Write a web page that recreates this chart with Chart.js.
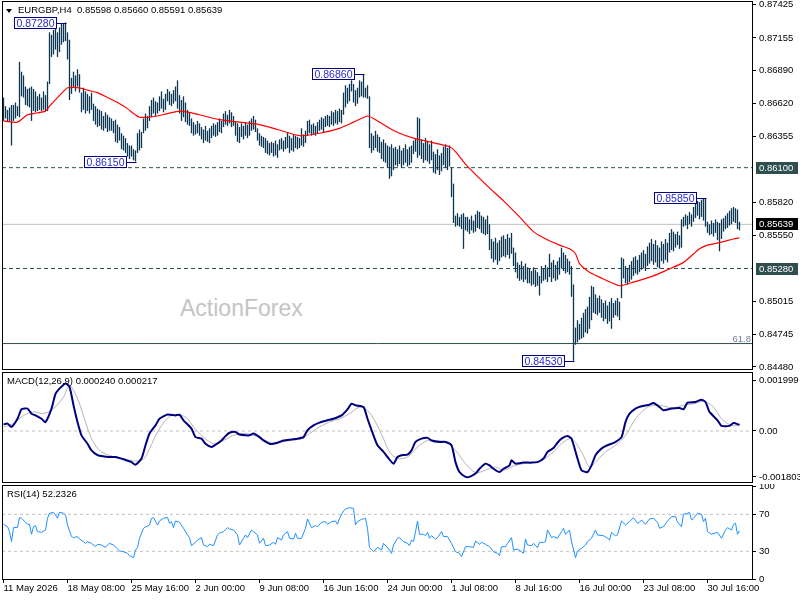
<!DOCTYPE html>
<html>
<head>
<meta charset="utf-8">
<title>EURGBP H4</title>
<script src="https://cdn.jsdelivr.net/npm/chart.js@4.4.1/dist/chart.umd.min.js"></script>
<style>
  html, body { margin: 0; padding: 0; background: #fff; }
  #wrap { position: relative; width: 800px; height: 600px; overflow: hidden; font-family: 'Liberation Sans', Arial, sans-serif; }
  #wrap canvas { position: absolute; left: 0; }
  #chart-price { top: 0; }
  #chart-macd { top: 372px; }
  #chart-rsi { top: 484px; }
  .caption { position: absolute; font-size: 9.5px; line-height: 9.5px; white-space: pre; color: #000; }
  .arrow { position: absolute; left: 6px; top: 9px; width: 0; height: 0; border-left: 3.5px solid transparent; border-right: 3.5px solid transparent; border-top: 4px solid #000; }
  .watermark { position: absolute; left: 180px; top: 297px; font-size: 23px; line-height: 23px; color: #c4c4c4; white-space: pre; }
</style>
</head>
<body>
<div id="wrap">
  <div class="watermark">ActionForex</div>
  <canvas id="chart-price" width="800" height="372"></canvas>
  <canvas id="chart-macd" width="800" height="112"></canvas>
  <canvas id="chart-rsi" width="800" height="116"></canvas>
  <div class="arrow"></div>
  <div class="caption" style="left:18px; top:5px;">EURGBP,H4  0.85598 0.85660 0.85591 0.85639</div>
  <div class="caption" style="left:7px; top:376px;">MACD(12,26,9) 0.000240 0.000217</div>
  <div class="caption" style="left:7px; top:489px;">RSI(14) 52.2326</div>
</div>
<script>
// H4 bars, one entry per bar (bar 0 = 11 May 2026 00:00)
const barHigh = [
  0.8667, 0.8660, 0.8657, 0.8659, 0.8661, 0.8661, 0.8663, 0.8660, 0.8696, 0.8688,
  0.8685, 0.8676, 0.8674, 0.8675, 0.8676, 0.8674, 0.8672, 0.8668, 0.8670, 0.8667,
  0.8672, 0.8669, 0.8680, 0.8720, 0.8718, 0.8722, 0.8726, 0.8720, 0.8724, 0.8727,
  0.8727, 0.8728, 0.8720, 0.8714, 0.8683, 0.8688, 0.8685, 0.8690, 0.8686, 0.8671,
  0.8675, 0.8672, 0.8670, 0.8668, 0.8671, 0.8662, 0.8660, 0.8658, 0.8657, 0.8656,
  0.8652, 0.8655, 0.8653, 0.8651, 0.8650, 0.8648, 0.8649, 0.8645, 0.8643, 0.8638,
  0.8636, 0.8634, 0.8630, 0.8628, 0.8628, 0.8625, 0.8624, 0.8638, 0.8641, 0.8639,
  0.8650, 0.8654, 0.8652, 0.8660, 0.8665, 0.8667, 0.8664, 0.8663, 0.8668, 0.8672,
  0.8666, 0.8670, 0.8674, 0.8672, 0.8670, 0.8673, 0.8676, 0.8681, 0.8669, 0.8665,
  0.8668, 0.8663, 0.8657, 0.8655, 0.8650, 0.8647, 0.8645, 0.8648, 0.8646, 0.8643,
  0.8641, 0.8644, 0.8640, 0.8642, 0.8644, 0.8646, 0.8645, 0.8647, 0.8650, 0.8648,
  0.8654, 0.8656, 0.8653, 0.8657, 0.8655, 0.8652, 0.8648, 0.8646, 0.8643, 0.8646,
  0.8644, 0.8647, 0.8645, 0.8648, 0.8650, 0.8652, 0.8649, 0.8642, 0.8638, 0.8636,
  0.8635, 0.8634, 0.8632, 0.8630, 0.8631, 0.8630, 0.8632, 0.8629, 0.8633, 0.8634,
  0.8632, 0.8635, 0.8639, 0.8636, 0.8634, 0.8637, 0.8636, 0.8635, 0.8634, 0.8642,
  0.8637, 0.8640, 0.8648, 0.8649, 0.8645, 0.8646, 0.8644, 0.8647, 0.8649, 0.8651,
  0.8650, 0.8652, 0.8653, 0.8652, 0.8656, 0.8655, 0.8657, 0.8656, 0.8658, 0.8657,
  0.8671, 0.8677, 0.8675, 0.8678, 0.8681, 0.8678, 0.8673, 0.8675, 0.8681, 0.8680,
  0.8686, 0.8675, 0.8677, 0.8668, 0.8638, 0.8636, 0.8640, 0.8637, 0.8635, 0.8631,
  0.8633, 0.8630, 0.8628, 0.8627, 0.8629, 0.8626, 0.8627, 0.8625, 0.8628, 0.8624,
  0.8626, 0.8629, 0.8625, 0.8627, 0.8628, 0.8632, 0.8634, 0.8651, 0.8650, 0.8633,
  0.8630, 0.8634, 0.8631, 0.8629, 0.8632, 0.8623, 0.8621, 0.8625, 0.8620, 0.8622,
  0.8627, 0.8629, 0.8626, 0.8628, 0.8610, 0.8597, 0.8571, 0.8573, 0.8570, 0.8572,
  0.8573, 0.8570, 0.8570, 0.8568, 0.8571, 0.8567, 0.8572, 0.8575, 0.8574, 0.8571,
  0.8570, 0.8568, 0.8571, 0.8564, 0.8552, 0.8550, 0.8553, 0.8549, 0.8551, 0.8554,
  0.8555, 0.8552, 0.8556, 0.8553, 0.8557, 0.8545, 0.8541, 0.8533, 0.8531, 0.8534,
  0.8530, 0.8532, 0.8529, 0.8528, 0.8526, 0.8529, 0.8527, 0.8525, 0.8522, 0.8530,
  0.8528, 0.8531, 0.8529, 0.8540, 0.8533, 0.8535, 0.8531, 0.8534, 0.8537, 0.8545,
  0.8541, 0.8539, 0.8536, 0.8534, 0.8530, 0.8515, 0.8480, 0.8486, 0.8483, 0.8488,
  0.8492, 0.8495, 0.8497, 0.8505, 0.8514, 0.8513, 0.8507, 0.8504, 0.8506, 0.8503,
  0.8500, 0.8502, 0.8498, 0.8501, 0.8504, 0.8500, 0.8502, 0.8504, 0.8501, 0.8537,
  0.8536, 0.8530, 0.8528, 0.8531, 0.8534, 0.8537, 0.8538, 0.8535, 0.8539, 0.8541,
  0.8543, 0.8540, 0.8546, 0.8549, 0.8552, 0.8548, 0.8551, 0.8547, 0.8545, 0.8550,
  0.8548, 0.8552, 0.8549, 0.8557, 0.8560, 0.8558, 0.8556, 0.8558, 0.8555, 0.8568,
  0.8570, 0.8572, 0.8571, 0.8574, 0.8572, 0.8578, 0.8582, 0.8583, 0.8582, 0.8584,
  0.8585, 0.8585, 0.8566, 0.8564, 0.8567, 0.8565, 0.8568, 0.8566, 0.8565, 0.8568,
  0.8569, 0.8571, 0.8573, 0.8575, 0.8577, 0.8578, 0.8577, 0.8576, 0.8566,
];
const barLow = [
  0.8648, 0.8650, 0.8647, 0.8648, 0.8628, 0.8648, 0.8650, 0.8652, 0.8651, 0.8668,
  0.8667, 0.8661, 0.8660, 0.8659, 0.8648, 0.8656, 0.8655, 0.8656, 0.8657, 0.8656,
  0.8657, 0.8656, 0.8656, 0.8678, 0.8700, 0.8702, 0.8706, 0.8700, 0.8704, 0.8710,
  0.8712, 0.8713, 0.8698, 0.8665, 0.8670, 0.8675, 0.8672, 0.8676, 0.8671, 0.8655,
  0.8657, 0.8654, 0.8656, 0.8654, 0.8657, 0.8648, 0.8645, 0.8643, 0.8644, 0.8641,
  0.8640, 0.8642, 0.8639, 0.8640, 0.8640, 0.8638, 0.8631, 0.8630, 0.8632, 0.8625,
  0.8624, 0.8622, 0.8619, 0.8617, 0.8619, 0.8616, 0.8615, 0.8622, 0.8624, 0.8626,
  0.8638, 0.8640, 0.8642, 0.8648, 0.8651, 0.8654, 0.8652, 0.8654, 0.8656, 0.8658,
  0.8655, 0.8657, 0.8664, 0.8661, 0.8660, 0.8662, 0.8664, 0.8658, 0.8654, 0.8648,
  0.8651, 0.8647, 0.8645, 0.8644, 0.8638, 0.8636, 0.8637, 0.8638, 0.8636, 0.8633,
  0.8630, 0.8632, 0.8631, 0.8630, 0.8634, 0.8636, 0.8635, 0.8636, 0.8639, 0.8638,
  0.8643, 0.8645, 0.8644, 0.8646, 0.8643, 0.8644, 0.8636, 0.8631, 0.8630, 0.8635,
  0.8633, 0.8636, 0.8634, 0.8636, 0.8640, 0.8641, 0.8639, 0.8632, 0.8628, 0.8627,
  0.8626, 0.8622, 0.8621, 0.8620, 0.8622, 0.8619, 0.8620, 0.8618, 0.8624, 0.8625,
  0.8623, 0.8625, 0.8626, 0.8622, 0.8624, 0.8623, 0.8626, 0.8625, 0.8626, 0.8628,
  0.8627, 0.8630, 0.8636, 0.8638, 0.8636, 0.8637, 0.8636, 0.8638, 0.8640, 0.8641,
  0.8639, 0.8643, 0.8644, 0.8643, 0.8645, 0.8644, 0.8646, 0.8645, 0.8647, 0.8646,
  0.8653, 0.8659, 0.8662, 0.8664, 0.8672, 0.8663, 0.8660, 0.8662, 0.8667, 0.8668,
  0.8667, 0.8667, 0.8666, 0.8626, 0.8622, 0.8624, 0.8626, 0.8623, 0.8622, 0.8617,
  0.8615, 0.8614, 0.8610, 0.8601, 0.8603, 0.8608, 0.8612, 0.8611, 0.8613, 0.8610,
  0.8612, 0.8614, 0.8611, 0.8612, 0.8614, 0.8621, 0.8623, 0.8618, 0.8620, 0.8617,
  0.8614, 0.8616, 0.8615, 0.8613, 0.8616, 0.8606, 0.8605, 0.8608, 0.8604, 0.8607,
  0.8612, 0.8610, 0.8608, 0.8611, 0.8586, 0.8565, 0.8562, 0.8563, 0.8562, 0.8560,
  0.8544, 0.8559, 0.8558, 0.8556, 0.8559, 0.8557, 0.8558, 0.8561, 0.8560, 0.8557,
  0.8556, 0.8555, 0.8556, 0.8543, 0.8536, 0.8533, 0.8535, 0.8531, 0.8534, 0.8537,
  0.8538, 0.8537, 0.8539, 0.8536, 0.8540, 0.8530, 0.8525, 0.8520, 0.8518, 0.8519,
  0.8517, 0.8519, 0.8516, 0.8516, 0.8514, 0.8515, 0.8513, 0.8514, 0.8506, 0.8516,
  0.8518, 0.8519, 0.8517, 0.8521, 0.8517, 0.8520, 0.8518, 0.8519, 0.8523, 0.8528,
  0.8526, 0.8524, 0.8525, 0.8523, 0.8505, 0.8453, 0.8466, 0.8468, 0.8470, 0.8471,
  0.8472, 0.8476, 0.8475, 0.8479, 0.8486, 0.8492, 0.8491, 0.8490, 0.8492, 0.8488,
  0.8485, 0.8487, 0.8483, 0.8485, 0.8479, 0.8488, 0.8490, 0.8489, 0.8486, 0.8504,
  0.8520, 0.8516, 0.8515, 0.8517, 0.8519, 0.8522, 0.8524, 0.8523, 0.8525, 0.8527,
  0.8528, 0.8526, 0.8530, 0.8532, 0.8534, 0.8531, 0.8533, 0.8529, 0.8528, 0.8534,
  0.8532, 0.8535, 0.8533, 0.8541, 0.8543, 0.8542, 0.8545, 0.8547, 0.8544, 0.8545,
  0.8562, 0.8563, 0.8560, 0.8564, 0.8562, 0.8566, 0.8569, 0.8571, 0.8568, 0.8570,
  0.8567, 0.8562, 0.8557, 0.8555, 0.8556, 0.8554, 0.8557, 0.8551, 0.8542, 0.8552,
  0.8558, 0.8560, 0.8561, 0.8563, 0.8564, 0.8566, 0.8565, 0.8560, 0.8559,
];

// red moving average, read at selected bars
const maBars = [0, 7, 12, 15, 21, 23, 27, 30, 32, 37, 42, 47, 52, 57, 62, 65, 68, 72, 77, 82,
  88, 93, 98, 108, 118, 128, 137, 148, 158, 168, 175, 182, 185, 193, 198, 205, 213, 223, 226, 232,
  242, 250, 258, 265, 270, 278, 283, 286, 288, 293, 298, 308, 315, 325, 332, 340, 348, 352, 358, 365, 368];
const maValues = [0.8648, 0.8647, 0.8653, 0.8654, 0.8656, 0.8660, 0.8667, 0.8672, 0.8675, 0.8675,
  0.8673, 0.8671, 0.8667, 0.8663, 0.8658, 0.8654, 0.8651, 0.8651, 0.8652, 0.8654,
  0.8656, 0.8655, 0.8653, 0.8649, 0.8647, 0.8645, 0.8641, 0.8636, 0.8638, 0.8642,
  0.8647, 0.8652, 0.8650, 0.8642, 0.8638, 0.8634, 0.8631, 0.8627, 0.8623, 0.8611,
  0.8595, 0.8583, 0.8570, 0.8558, 0.8553, 0.8547, 0.8544, 0.8540, 0.8532, 0.8525,
  0.8521, 0.8514, 0.8517, 0.8522, 0.8527, 0.8533, 0.8544, 0.8547, 0.8549, 0.8552, 0.8553];

// MACD(12,26,9)
const macdBars = [0, 2, 4, 7, 9, 12, 14, 16, 19, 21, 24, 26, 28, 31, 33, 35, 37, 39, 42, 44,
  47, 49, 53, 56, 60, 64, 66, 69, 71, 73, 76, 78, 82, 86, 88, 90, 94, 96, 99, 101,
  104, 106, 109, 111, 113, 116, 118, 121, 123, 125, 128, 130, 133, 135, 138, 140, 144, 147, 150, 152,
  155, 158, 162, 165, 169, 172, 174, 176, 180, 182, 185, 187, 190, 192, 195, 197, 199, 202, 204, 206,
  209, 212, 214, 218, 221, 224, 226, 228, 231, 233, 236, 238, 241, 243, 245, 248, 250, 253, 254, 256,
  260, 264, 267, 270, 272, 275, 277, 279, 282, 284, 287, 289, 292, 294, 296, 299, 301, 304, 306, 309,
  311, 313, 316, 319, 323, 325, 328, 330, 334, 338, 340, 342, 346, 349, 351, 353, 357, 359, 363, 365, 368];
const macdMain = [0.00026, 0.00029, 0.00016, 0.00048, 0.00085, 0.00088, 0.00068, 0.00061, 0.00048, 0.00035,
  0.00088, 0.00146, 0.00166, 0.00186, 0.00173, 0.00101, 0.00035, -0.00017, -0.00050, -0.00076,
  -0.00095, -0.00098, -0.00102, -0.00102, -0.00111, -0.00122, -0.00132, -0.00108, -0.00056, -0.00010,
  0.00022, 0.00048, 0.00065, 0.00061, 0.00064, 0.00042, 0.00009, -0.00024, -0.00030, -0.00050,
  -0.00063, -0.00054, -0.00037, -0.00020, -0.00007, -0.00004, -0.00014, -0.00017, -0.00017, -0.00010,
  -0.00024, -0.00037, -0.00050, -0.00050, -0.00043, -0.00037, -0.00033, -0.00030, -0.00024, 0.00003,
  0.00022, 0.00033, 0.00042, 0.00048, 0.00061, 0.00085, 0.00107, 0.00101, 0.00094, 0.00048,
  -0.00017, -0.00056, -0.00082, -0.00102, -0.00128, -0.00102, -0.00095, -0.00093, -0.00076, -0.00043,
  -0.00030, -0.00027, -0.00037, -0.00043, -0.00043, -0.00056, -0.00122, -0.00161, -0.00180, -0.00180,
  -0.00167, -0.00148, -0.00128, -0.00135, -0.00148, -0.00161, -0.00148, -0.00135, -0.00115, -0.00128,
  -0.00124, -0.00124, -0.00122, -0.00108, -0.00082, -0.00067, -0.00046, -0.00030, -0.00020, -0.00030,
  -0.00108, -0.00154, -0.00161, -0.00135, -0.00095, -0.00069, -0.00059, -0.00050, -0.00043, -0.00024,
  0.00035, 0.00068, 0.00088, 0.00097, 0.00103, 0.00110, 0.00094, 0.00081, 0.00088, 0.00090,
  0.00085, 0.00111, 0.00114, 0.00123, 0.00114, 0.00075, 0.00042, 0.00020, 0.00020, 0.00031, 0.00024];
const signalBars = [0, 5, 10, 15, 20, 25, 30, 33, 37, 41, 44, 48, 52, 56, 61, 66, 70, 73, 77, 81,
  84, 88, 92, 95, 100, 105, 110, 115, 120, 124, 129, 134, 139, 144, 149, 153, 158, 163, 168, 173,
  178, 182, 186, 190, 193, 197, 202, 207, 212, 216, 221, 226, 231, 236, 241, 246, 250, 255, 260, 265,
  270, 275, 279, 284, 289, 293, 296, 301, 306, 311, 316, 321, 325, 330, 335, 340, 345, 350, 355, 359, 364, 368];
const macdSignal = [0.00016, 0.00029, 0.00061, 0.00075, 0.00068, 0.00088, 0.00133, 0.00179, 0.00127, 0.00035,
  -0.00030, -0.00076, -0.00093, -0.00102, -0.00111, -0.00118, -0.00111, -0.00069, -0.00004, 0.00042,
  0.00061, 0.00064, 0.00048, 0.00016, -0.00024, -0.00050, -0.00037, -0.00017, -0.00010, -0.00014,
  -0.00030, -0.00046, -0.00043, -0.00037, -0.00030, -0.00010, 0.00016, 0.00035, 0.00048, 0.00068,
  0.00094, 0.00081, 0.00035, -0.00030, -0.00082, -0.00108, -0.00102, -0.00063, -0.00037, -0.00037,
  -0.00043, -0.00076, -0.00128, -0.00163, -0.00154, -0.00141, -0.00154, -0.00137, -0.00128, -0.00124,
  -0.00111, -0.00082, -0.00050, -0.00030, -0.00082, -0.00141, -0.00122, -0.00082, -0.00056, -0.00017,
  0.00048, 0.00088, 0.00101, 0.00098, 0.00090, 0.00101, 0.00107, 0.00116, 0.00094, 0.00048, 0.00022, 0.000217];

// RSI(14)
const rsiBars = [0, 2, 3, 4, 5, 7, 8, 9, 11, 12, 13, 14, 15, 16, 17, 19, 21, 22, 23, 25,
  26, 27, 28, 30, 31, 32, 34, 35, 37, 38, 40, 41, 42, 44, 46, 47, 49, 51, 52, 53,
  55, 57, 58, 60, 62, 63, 65, 66, 67, 68, 70, 71, 73, 74, 75, 77, 78, 80, 82, 83,
  84, 85, 86, 88, 90, 92, 93, 94, 96, 97, 99, 100, 102, 103, 105, 107, 108, 110, 112, 113,
  115, 117, 118, 120, 121, 122, 124, 125, 127, 128, 130, 131, 133, 135, 136, 137, 139, 140, 142, 143,
  145, 146, 147, 149, 151, 152, 154, 156, 157, 159, 161, 162, 164, 166, 167, 168, 170, 171, 173, 175,
  176, 177, 179, 180, 181, 182, 183, 185, 187, 189, 190, 192, 193, 194, 195, 197, 198, 200, 202, 203,
  204, 205, 206, 207, 208, 210, 211, 212, 213, 214, 216, 217, 219, 220, 222, 224, 226, 228, 229, 231,
  233, 235, 236, 238, 239, 241, 243, 245, 247, 248, 249, 251, 252, 254, 255, 257, 259, 260, 261, 262,
  264, 265, 267, 268, 270, 271, 272, 274, 275, 277, 279, 280, 281, 283, 284, 286, 287, 289, 291, 292,
  294, 296, 297, 300, 302, 303, 304, 306, 307, 309, 311, 313, 315, 317, 318, 319, 321, 323, 325, 327,
  328, 330, 332, 334, 336, 337, 339, 340, 342, 343, 344, 345, 347, 349, 350, 351, 352, 354, 357, 359,
  361, 362, 364, 365, 366, 367, 368];
const rsiValues = [59.2, 56.7, 51.3, 40.4, 55.6, 55.9, 66.4, 65.7, 61.4, 59.2, 59.2, 48.4, 56.7, 57.7, 51.3, 50.5, 53.1, 65.7, 71.1, 72.2,
  69.3, 65.7, 72.2, 71.1, 69.3, 58.5, 45.9, 44.8, 45.9, 43.3, 40.4, 38.6, 40.4, 38.6, 35.0, 37.6, 36.8, 34.3, 36.8, 38.6,
  36.8, 32.5, 30.4, 29.6, 27.8, 25.3, 23.1, 31.4, 34.0, 44.1, 54.9, 56.3, 58.5, 65.7, 66.4, 58.5, 62.8, 65.7, 66.8, 60.3,
  62.1, 55.6, 62.8, 61.4, 54.9, 47.7, 44.8, 36.1, 39.7, 42.2, 44.8, 36.8, 35.0, 37.6, 36.1, 47.7, 49.5, 51.3, 55.6, 54.2,
  53.1, 47.7, 36.8, 44.1, 47.7, 44.8, 53.1, 51.3, 47.7, 38.6, 44.1, 36.1, 36.8, 39.7, 37.6, 44.8, 42.2, 47.7, 51.3, 44.1,
  43.3, 49.5, 44.1, 44.1, 54.9, 65.0, 55.6, 57.7, 56.7, 61.4, 62.1, 59.2, 62.1, 62.8, 59.2, 65.7, 73.6, 75.8, 77.2, 76.5,
  58.5, 62.1, 64.6, 65.0, 65.7, 54.9, 34.0, 29.6, 34.3, 31.4, 38.6, 34.0, 31.4, 27.8, 36.8, 44.1, 44.8, 40.4, 38.6, 36.1,
  42.2, 40.4, 51.3, 62.8, 48.4, 48.4, 46.9, 50.5, 44.1, 46.9, 43.3, 44.8, 51.3, 45.9, 45.9, 38.6, 29.6, 27.8, 24.2, 35.0,
  35.0, 34.3, 41.2, 37.6, 39.7, 37.6, 35.0, 29.6, 27.8, 25.3, 35.0, 35.0, 38.6, 44.8, 31.4, 32.5, 29.6, 27.8, 43.3, 36.8,
  36.1, 38.6, 34.0, 39.7, 39.7, 40.4, 53.1, 44.8, 45.9, 44.1, 51.3, 54.9, 48.4, 53.1, 40.4, 23.1, 30.4, 33.2, 36.8, 40.4,
  44.1, 53.1, 47.7, 46.9, 44.1, 42.2, 50.5, 46.9, 47.7, 62.8, 58.5, 62.1, 66.4, 60.3, 61.4, 63.9, 59.2, 65.0, 65.7, 61.4,
  54.9, 56.7, 62.8, 67.5, 67.5, 61.4, 56.7, 70.0, 71.1, 72.2, 63.9, 65.7, 71.1, 70.0, 62.1, 65.7, 51.3, 48.4, 50.5, 44.1,
  53.1, 55.6, 53.1, 59.2, 60.3, 48.4, 52.2];

// time axis
const timeTickBars = [0, 32, 64, 96, 128, 160, 192, 224, 256, 288, 320, 352];
const timeTickLabels = ['11 May 2026', '18 May 08:00', '25 May 16:00', '2 Jun 00:00', '9 Jun 08:00', '16 Jun 16:00',
  '24 Jun 00:00', '1 Jul 08:00', '8 Jul 16:00', '16 Jul 00:00', '23 Jul 08:00', '30 Jul 16:00'];

// price axis and levels
const priceTicks = [0.87425, 0.87155, 0.86890, 0.86620, 0.86355, 0.85820, 0.85550, 0.85015, 0.84745, 0.84480];
const dashedLevels = [0.86100, 0.85280];
const lastPrice = 0.85639;
const fiboLevel = 0.8467;
const fiboLabel = '61.8';
const extremeBars = [31, 66, 180, 285, 351];
const extremePrices = [0.8728, 0.8615, 0.8686, 0.8453, 0.8585];

const macdTicks = [0.001999, 0, -0.001803];
const rsiTicks = [100, 70, 30, 0];
const rsiLevels = [70, 30];

const FONT = "'Liberation Sans', Arial, sans-serif";
const X_MIN = -0.75;
const X_MAX = 374.75;

const buildXScale = (showLabels) => ({
  type: 'linear',
  min: X_MIN,
  max: X_MAX,
  offset: false,
  display: showLabels,
  grid: { display: true, drawOnChartArea: false, drawTicks: true, tickLength: 3, color: '#000', offset: false },
  border: { display: false },
  ticks: {
    autoSkip: false,
    maxRotation: 0,
    align: 'start',
    padding: 0,
    color: '#000',
    font: { family: FONT, size: 9.5 },
    callback: (value, index) => timeTickLabels[index],
  },
  afterBuildTicks: (scale) => {
    scale.ticks = timeTickBars.map((bar) => ({ value: bar }));
  },
  afterFit: (scale) => {
    scale.height = showLabels ? 20 : 0;
    scale.paddingLeft = 0;
    scale.paddingRight = 0;
  },
});

const buildYScale = (min, max, tickValues, format) => ({
  type: 'linear',
  position: 'right',
  min: min,
  max: max,
  bounds: 'data',
  grid: { display: true, drawOnChartArea: false, drawTicks: true, tickLength: 3, color: '#000' },
  border: { display: false },
  ticks: {
    autoSkip: false,
    padding: 3,
    color: '#000',
    font: { family: FONT, size: 9.5 },
    callback: format,
  },
  afterBuildTicks: (scale) => {
    scale.ticks = tickValues.map((v) => ({ value: v }));
  },
  afterFit: (scale) => {
    scale.width = 47;
    scale.paddingTop = 0;
    scale.paddingBottom = 0;
  },
});

const levelLine = (value, color, dash) => ({
  type: 'line',
  data: [{ x: X_MIN, y: value }, { x: X_MAX, y: value }],
  borderColor: color,
  borderWidth: 1,
  borderDash: dash,
  pointRadius: 0,
  order: 3,
});

const baseOptions = (padding, scales) => ({
  responsive: false,
  animation: false,
  events: [],
  layout: { padding: padding },
  plugins: { legend: { display: false }, tooltip: { enabled: false } },
  scales: scales,
});

const panelFrame = {
  id: 'panelFrame',
  afterDraw(chart) {
    const { ctx, chartArea } = chart;
    ctx.save();
    ctx.strokeStyle = '#000';
    ctx.lineWidth = 1;
    ctx.strokeRect(chartArea.left + 0.5, chartArea.top + 0.5,
      chartArea.right - chartArea.left - 1, chartArea.bottom - chartArea.top - 1);
    ctx.restore();
  },
};

const priceMarks = {
  id: 'priceMarks',
  afterDatasetsDraw(chart) {
    const { ctx, chartArea, scales } = chart;
    const x = scales.x;
    const y = scales.y;
    ctx.save();

    // tags on the price axis
    const tags = [
      { value: dashedLevels[0], fill: '#2f4f4f' },
      { value: lastPrice, fill: '#000000' },
      { value: dashedLevels[1], fill: '#2f4f4f' },
    ];
    ctx.font = '9.5px ' + FONT;
    ctx.textBaseline = 'middle';
    ctx.textAlign = 'left';
    tags.forEach((tag) => {
      const py = Math.round(y.getPixelForValue(tag.value));
      ctx.fillStyle = tag.fill;
      ctx.fillRect(chartArea.right + 3, py - 6, 42, 12);
      ctx.fillStyle = '#fff';
      ctx.fillText(tag.value.toFixed(5), chartArea.right + 6, py + 0.5);
    });

    // fibo caption
    ctx.fillStyle = '#708090';
    ctx.textAlign = 'right';
    ctx.textBaseline = 'alphabetic';
    ctx.fillText(fiboLabel, chartArea.right - 2, y.getPixelForValue(fiboLevel) - 2);

    // swing high / low tags
    ctx.font = '10.5px ' + FONT;
    ctx.textAlign = 'center';
    ctx.textBaseline = 'middle';
    extremeBars.forEach((bar, k) => {
      const price = extremePrices[k];
      const text = price.toFixed(5);
      const bx = Math.round(x.getPixelForValue(bar)) + 0.5;
      const py = Math.round(y.getPixelForValue(price)) + 0.5;
      const w = Math.round(ctx.measureText(text).width) + 5;
      const right = Math.round(bx) - 10;
      ctx.fillStyle = '#fff';
      ctx.fillRect(right - w, py - 6.5, w, 12);
      ctx.strokeStyle = '#000080';
      ctx.lineWidth = 1;
      ctx.strokeRect(right - w + 0.5, py - 6, w - 1, 11);
      ctx.beginPath();
      ctx.moveTo(right, py);
      ctx.lineTo(bx, py);
      ctx.stroke();
      ctx.fillStyle = '#2a2ac8';
      ctx.fillText(text, right - w / 2, py + 0.5);
    });
    ctx.restore();
  },
};

const drawPriceChart = () => {
  const bars = barHigh.map((high, i) => ({ x: i, y: [barLow[i], high] }));
  const average = maBars.map((bar, k) => ({ x: bar, y: maValues[k] }));

  new Chart(document.querySelector('#chart-price'), {
    type: 'bar',
    data: {
      datasets: [
        {
          type: 'bar',
          data: bars,
          backgroundColor: '#0d3652',
          barThickness: 1.3,
          borderWidth: 0,
          borderSkipped: false,
          inflateAmount: 0,
          order: 2,
        },
        {
          type: 'line',
          data: average,
          borderColor: '#ff0000',
          borderWidth: 1.2,
          pointRadius: 0,
          tension: 0.2,
          order: 1,
        },
        levelLine(dashedLevels[0], '#2f4f4f', [4, 3]),
        levelLine(dashedLevels[1], '#2f4f4f', [4, 3]),
        levelLine(lastPrice, '#c0c0c0', []),
        levelLine(fiboLevel, '#2f4f4f', []),
      ],
    },
    options: baseOptions({ left: 2, top: 1, right: 0, bottom: 2 }, {
      x: buildXScale(false),
      y: buildYScale(0.84455, 0.87455, priceTicks, (v) => v.toFixed(5)),
    }),
    plugins: [panelFrame, priceMarks],
  });
};

const drawMacdChart = () => {
  new Chart(document.querySelector('#chart-macd'), {
    type: 'line',
    data: {
      datasets: [
        levelLine(0, '#c0c0c0', [3, 3]),
        {
          data: signalBars.map((bar, k) => ({ x: bar, y: macdSignal[k] })),
          borderColor: '#b4b4b4',
          borderWidth: 1,
          pointRadius: 0,
          tension: 0.3,
          order: 2,
        },
        {
          data: macdBars.map((bar, k) => ({ x: bar, y: macdMain[k] })),
          borderColor: '#000080',
          borderWidth: 2,
          pointRadius: 0,
          tension: 0.2,
          borderJoinStyle: 'round',
          order: 1,
        },
      ],
    },
    options: baseOptions({ left: 2, top: 0, right: 0, bottom: 1 }, {
      x: buildXScale(false),
      y: buildYScale(-0.0020392, 0.0023137, macdTicks, (v) => (v === 0 ? '0.00' : v.toFixed(6))),
    }),
    plugins: [panelFrame],
  });
};

const drawRsiChart = () => {
  new Chart(document.querySelector('#chart-rsi'), {
    type: 'line',
    data: {
      datasets: [
        levelLine(rsiLevels[0], '#c0c0c0', [3, 3]),
        levelLine(rsiLevels[1], '#c0c0c0', [3, 3]),
        {
          data: rsiBars.map((bar, k) => ({ x: bar, y: rsiValues[k] })),
          borderColor: '#1e90ff',
          borderWidth: 1,
          pointRadius: 0,
          tension: 0,
          order: 1,
        },
      ],
    },
    options: baseOptions({ left: 2, top: 1, right: 0, bottom: 0 }, {
      x: buildXScale(true),
      y: buildYScale(-1.03, 101.7, rsiTicks, (v) => String(v)),
    }),
    plugins: [panelFrame],
  });
};

const initializeChart = () => {
  try {
    drawPriceChart();
    drawMacdChart();
    drawRsiChart();
  } catch (error) {
    console.error('Failed to draw the EURGBP chart', error);
  }
};

document.addEventListener('DOMContentLoaded', initializeChart);
</script>
</body>
</html>
